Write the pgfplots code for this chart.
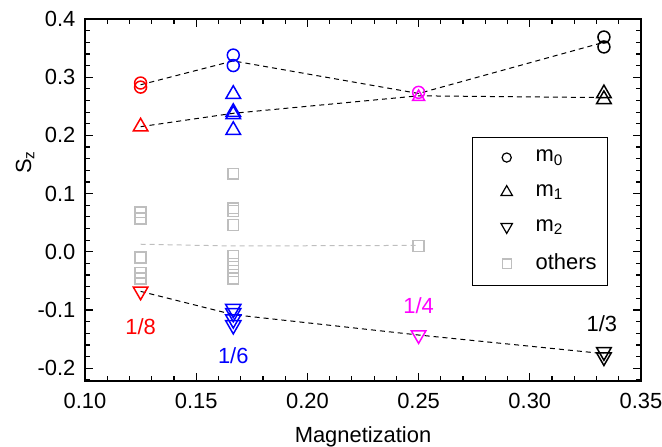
\documentclass[border=0pt]{standalone}
\usepackage{pgfplots}
\pgfplotsset{compat=1.18}
\usepackage{fontspec}
\setmainfont{Liberation Sans}
\definecolor{othergray}{RGB}{190,190,190}
\definecolor{mag}{RGB}{255,0,255}
\pgfplotsset{
  legmark/.style={legend image code/.code={%
    \path[draw=none,fill=none] (-13.5bp,0) -- (3bp,0);%
    \draw[##1] plot coordinates {(0cm,0cm)};}},
}
\begin{document}
\fontsize{11}{13.2}\selectfont
\begin{tikzpicture}
\begin{axis}[
  scale only axis, width=278bp, height=181bp,
  xmin=0.10, xmax=0.35, ymin=-0.222, ymax=0.4,
  xtick={0.10,0.15,0.20,0.25,0.30,0.35},
  ytick={-0.2,-0.1,0,0.1,0.2,0.3,0.4},
  minor xtick={0.11,0.12,...,0.34},
  minor ytick={-0.22,-0.18,-0.16,-0.14,-0.12,-0.08,-0.06,-0.04,-0.02,0.02,0.04,0.06,0.08,0.12,0.14,0.16,0.18,0.22,0.24,0.26,0.28,0.32,0.34,0.36,0.38},
  tick align=inside, tick pos=both,
  major tick length=4bp, minor tick length=2.5bp,
  axis line style={line width=0.75bp},
  every tick/.style={black, line width=0.6bp},
  /pgf/number format/assume math mode=true,
  xticklabel style={/pgf/number format/fixed, /pgf/number format/fixed zerofill, /pgf/number format/precision=2, yshift=-2.3bp},
  yticklabel style={/pgf/number format/fixed, /pgf/number format/fixed zerofill, /pgf/number format/precision=1, xshift=-1bp},
  tick label style={font=\fontsize{11}{13}\selectfont},
  xlabel={Magnetization}, ylabel={S\textsubscript{z}},
  xlabel style={at={(axis description cs:0.5,0)}, anchor=center, yshift=-28bp},
  ylabel style={at={(axis description cs:0,0.605)}, anchor=center, yshift=30bp},
  legend style={at={(0.941,0.674)}, anchor=north east, draw=black, line width=0.6bp,
    font=\fontsize{11}{13}\selectfont, inner xsep=3.5bp, inner ysep=4.2bp, row sep=5.8bp},
  legend cell align=left,
  /tikz/every odd column/.append style={column sep=9.5bp},
]
% dashed guide lines
\addplot[black, line width=0.5bp, dash pattern=on 2.5bp off 2bp, forget plot] coordinates {
  (0.125,0.287) (0.16667,0.328) (0.25,0.272) (0.33333,0.360)};
\addplot[black, line width=0.5bp, dash pattern=on 2.5bp off 2bp, forget plot] coordinates {
  (0.125,0.215) (0.16667,0.238) (0.25,0.268) (0.33333,0.265)};
\addplot[black, line width=0.5bp, dash pattern=on 2.5bp off 2bp, forget plot] coordinates {
  (0.125,-0.068) (0.16667,-0.108) (0.25,-0.143) (0.33333,-0.175)};
\addplot[othergray, line width=0.5bp, dash pattern=on 2.5bp off 2bp, forget plot] coordinates {
  (0.125,0.013) (0.16667,0.010) (0.25,0.011)};

% others
\addplot[only marks, mark=square, othergray, mark size=2.7pt, line width=0.75bp, forget plot] coordinates {
  (0.125,0.068) (0.125,0.057) (0.125,-0.010) (0.125,-0.036) (0.125,-0.046)
  (0.16667,0.134) (0.16667,0.075) (0.16667,0.070) (0.16667,0.046)
  (0.16667,-0.007) (0.16667,-0.021) (0.16667,-0.033) (0.16667,-0.046)
  (0.25,0.010)};

% m0
\addplot[only marks, mark=o, red, mark size=3pt, line width=0.75bp, forget plot] coordinates {
  (0.125,0.290) (0.125,0.283)};
\addplot[only marks, mark=o, blue, mark size=3pt, line width=0.75bp, forget plot] coordinates {
  (0.16667,0.338) (0.16667,0.320)};
\addplot[only marks, mark=o, mag, mark size=3pt, line width=0.75bp, forget plot] coordinates {
  (0.25,0.274)};
\addplot[only marks, mark=o, black, mark size=3pt, line width=0.75bp, forget plot] coordinates {
  (0.33333,0.369) (0.33333,0.352)};

% m1
\addplot[only marks, mark=triangle, red, mark size=4.2pt, line width=0.75bp, forget plot] coordinates {
  (0.125,0.215)};
\addplot[only marks, mark=triangle, blue, mark size=4.2pt, line width=0.75bp, forget plot] coordinates {
  (0.16667,0.271) (0.16667,0.240) (0.16667,0.236) (0.16667,0.209)};
\addplot[only marks, mark=triangle, mag, mark size=3.5pt, line width=0.75bp, forget plot] coordinates {
  (0.25,0.266)};
\addplot[only marks, mark=triangle, black, mark size=4.2pt, line width=0.75bp, forget plot] coordinates {
  (0.33333,0.272) (0.33333,0.262)};

% m2
\addplot[only marks, mark=triangle, mark options={rotate=180}, red, mark size=4.2pt, line width=0.75bp, forget plot] coordinates {
  (0.125,-0.068)};
\addplot[only marks, mark=triangle, mark options={rotate=180}, blue, mark size=4.4pt, line width=0.75bp, forget plot] coordinates {
  (0.16667,-0.098) (0.16667,-0.105) (0.16667,-0.116) (0.16667,-0.126)};
\addplot[only marks, mark=triangle, mark options={rotate=180}, mag, mark size=4.2pt, line width=0.75bp, forget plot] coordinates {
  (0.25,-0.143)};
\addplot[only marks, mark=triangle, mark options={rotate=180}, black, mark size=4.2pt, line width=0.75bp, forget plot] coordinates {
  (0.33333,-0.172) (0.33333,-0.181)};

% legend
\addlegendimage{legmark, only marks, mark=o, black, mark size=2.3pt, line width=0.6bp}
\addlegendentry{m\textsubscript{0}}
\addlegendimage{legmark, only marks, mark=triangle, black, mark size=3.3pt, line width=0.6bp}
\addlegendentry{m\textsubscript{1}}
\addlegendimage{legmark, only marks, mark=triangle, mark options={rotate=180}, black, mark size=3.3pt, line width=0.6bp}
\addlegendentry{m\textsubscript{2}}
\addlegendimage{legmark, only marks, mark=square, othergray, mark size=2.3pt, line width=0.6bp}
\addlegendentry{others}

% fraction labels
\node[red] at (axis cs:0.125,-0.128) {1/8};
\node[blue] at (axis cs:0.16667,-0.179) {1/6};
\node[mag] at (axis cs:0.25,-0.093) {1/4};
\node[black] at (axis cs:0.3324,-0.124) {1/3};
\end{axis}
\pgfresetboundingbox
\path (-42.5bp,-33bp) rectangle (288.5bp,190.5bp);
\end{tikzpicture}
\end{document}
